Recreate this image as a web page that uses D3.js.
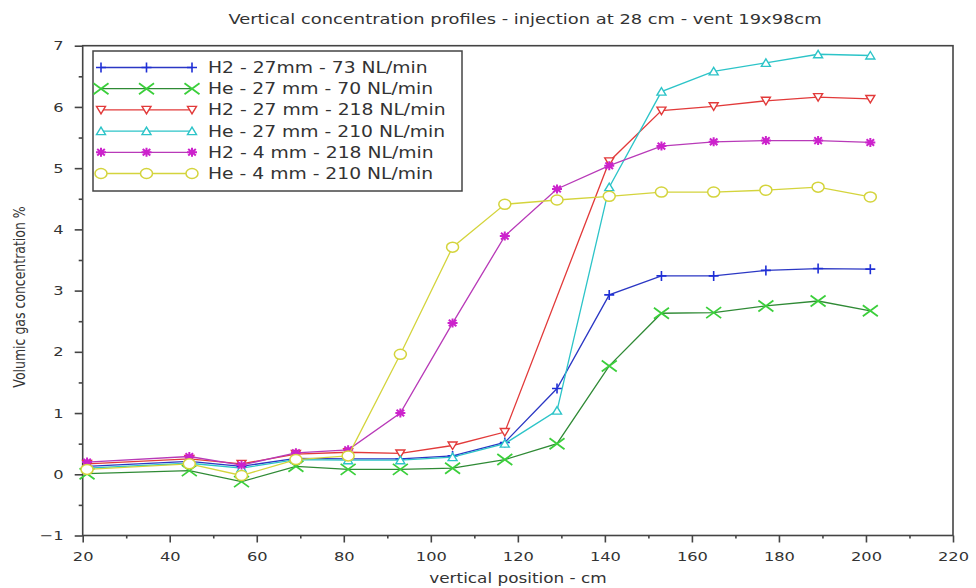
<!DOCTYPE html>
<html>
<head>
<meta charset="utf-8">
<script src="https://cdn.jsdelivr.net/npm/d3@7"></script>
<style>
  body { margin: 0; background: #fff; }
  svg text { font-family: "DejaVu Sans", sans-serif; fill: #333; }
</style>
</head>
<body>
<script>
// positions along the vertical (cm)
var positions = [21, 44.5, 56.5, 69, 81, 93, 105, 117, 129, 141, 153, 165, 177, 189, 201];

// concentrations (%), null = no measurement
var h2_27_73  = [0.13, 0.21, 0.13, 0.26, 0.25, 0.25, 0.30, 0.52, 1.40, 2.93, 3.24, 3.24, 3.33, 3.36, 3.35];
var he_27_70  = [0.01, 0.06, -0.12, 0.13, 0.08, 0.08, 0.10, 0.24, 0.50, 1.77, 2.63, 2.64, 2.75, 2.83, 2.67];
var h2_27_218 = [0.17, 0.25, 0.17, 0.33, 0.36, 0.34, 0.47, 0.69, null, 5.11, 5.94, 6.01, 6.10, 6.16, 6.13];
var he_27_210 = [0.10, 0.18, 0.10, 0.24, 0.23, 0.23, 0.28, 0.50, 1.04, 4.69, 6.25, 6.58, 6.72, 6.86, 6.84];
var h2_4_218  = [0.20, 0.29, 0.15, 0.35, 0.40, 1.00, 2.47, 3.89, 4.66, 5.04, 5.36, 5.43, 5.45, 5.45, 5.42];
var he_4_210  = [0.08, 0.17, -0.02, 0.24, 0.30, 1.96, 3.71, 4.41, 4.48, 4.54, 4.61, 4.61, 4.64, 4.69, 4.53];

var seriesNames = ["H2 - 27mm - 73 NL/min", "He - 27 mm - 70 NL/min", "H2 - 27 mm - 218 NL/min",
                   "He - 27 mm - 210 NL/min", "H2 - 4 mm - 218 NL/min", "He - 4 mm - 210 NL/min"];
var seriesValues = [h2_27_73, he_27_70, h2_27_218, he_27_210, h2_4_218, he_4_210];

var xTicks = [20, 40, 60, 80, 100, 120, 140, 160, 180, 200, 220];
var yTicks = [-1, 0, 1, 2, 3, 4, 5, 6, 7];

var W = 976, H = 588,
    pLeft = 82.7, pRight = 953, pTop = 45.7, pBottom = 535.5,
    sx = 1.25; // glyphs look stretched sideways in the picture

// look of each series: line colour, marker colour, marker kind
var styles = [
  { line: "#2b37c4", mark: "#1f2fd6", kind: "plus" },
  { line: "#2f8a35", mark: "#3bcf3b", kind: "cross" },
  { line: "#e23a3a", mark: "#e23a3a", kind: "tridown" },
  { line: "#2cc4c8", mark: "#2cc4c8", kind: "triup" },
  { line: "#b83ab8", mark: "#cc22cc", kind: "star" },
  { line: "#d4d43c", mark: "#d4d43c", kind: "circle" }
];

var svg = d3.select("body").append("svg")
    .attr("width", W)
    .attr("height", H);

var x = d3.scaleLinear().domain([20, 220]).range([pLeft, pRight]);
var y = d3.scaleLinear().domain([-1, 7]).range([pBottom, pTop]);

/* title */
svg.append("text")
  .attr("transform", "translate(" + 525 + ",24) scale(" + sx + ",1)")
  .attr("text-anchor", "middle")
  .style("font-size", "14.3px")
  .text("Vertical concentration profiles - injection at 28 cm - vent 19x98cm");

/* axes */
var xAxis = svg.append("g").attr("transform", "translate(0," + pBottom + ")");
xAxis.call(d3.axisBottom(x).tickValues(d3.range(30, 220, 20)).tickSize(3).tickFormat("").tickSizeOuter(0));
var xMajor = svg.append("g").attr("transform", "translate(0," + pBottom + ")");
xMajor.call(d3.axisBottom(x).tickValues(xTicks).tickSize(7).tickPadding(9).tickSizeOuter(0));
xMajor.selectAll("text")
  .attr("transform", "scale(" + sx + ",1)")
  .attr("x", 0)
  .style("font-size", "13px")
  .style("font-family", "DejaVu Sans");

var yAxis = svg.append("g").attr("transform", "translate(" + pLeft + ",0)");
yAxis.call(d3.axisLeft(y).tickValues(d3.range(-0.5, 7, 1)).tickSize(4).tickFormat("").tickSizeOuter(0));
var yMajor = svg.append("g").attr("transform", "translate(" + pLeft + ",0)");
yMajor.call(d3.axisLeft(y).tickValues(yTicks).tickSize(8).tickSizeOuter(0));
yMajor.selectAll("text")
  .attr("transform", "scale(" + sx + ",1)")
  .attr("x", -19 / sx)
  .style("font-size", "13px")
  .style("font-family", "DejaVu Sans");

svg.selectAll(".domain").attr("stroke", "none");
svg.selectAll(".tick line").attr("stroke", "#444").attr("stroke-width", 1.6);

/* frame */
svg.append("rect")
  .attr("x", pLeft).attr("y", pTop)
  .attr("width", pRight - pLeft).attr("height", pBottom - pTop)
  .attr("fill", "none")
  .attr("stroke", "#444")
  .attr("stroke-width", 1.6);

/* axis titles */
svg.append("text")
  .attr("transform", "translate(" + 518 + ",583) scale(" + sx + ",1)")
  .attr("text-anchor", "middle")
  .style("font-size", "13.5px")
  .text("vertical position - cm");

svg.append("text")
  .attr("transform", "translate(25,297) scale(" + sx + ",1) rotate(-90)")
  .attr("text-anchor", "middle")
  .style("font-size", "12.5px")
  .text("Volumic gas concentration %");

/* markers */
function drawMark(g, kind, color) {
  if (kind == "plus") {
    g.append("path").attr("d", "M-5,0H5M0,-5V5")
      .attr("stroke", color).attr("stroke-width", 1.6).attr("fill", "none");
  } else if (kind == "cross") {
    g.append("path").attr("d", "M-7.5,-5.5L7.5,5.5M-7.5,5.5L7.5,-5.5")
      .attr("stroke", color).attr("stroke-width", 1.8).attr("fill", "none");
  } else if (kind == "tridown") {
    g.append("path").attr("d", "M-4.5,-3.5L4.5,-3.5L0,4Z")
      .attr("stroke", color).attr("stroke-width", 1.4).attr("fill", "#fff");
  } else if (kind == "triup") {
    g.append("path").attr("d", "M-4.5,3.5L4.5,3.5L0,-4Z")
      .attr("stroke", color).attr("stroke-width", 1.4).attr("fill", "#fff");
  } else if (kind == "star") {
    g.append("path").attr("d", "M-5,0H5M0,-4.5V4.5M-3.8,-3.3L3.8,3.3M-3.8,3.3L3.8,-3.3")
      .attr("stroke", color).attr("stroke-width", 2).attr("fill", "none");
  } else if (kind == "circle") {
    g.append("ellipse").attr("rx", 6).attr("ry", 5)
      .attr("stroke", color).attr("stroke-width", 1.5).attr("fill", "#fff");
  }
}

var line = d3.line()
  .x(function(d) { return x(d.x); })
  .y(function(d) { return y(d.v); });

seriesValues.forEach(function(vals, i) {
  var pts = positions.map(function(p, j) { return { x: p, v: vals[j] }; })
    .filter(function(d) { return d.v !== null; });
  var st = styles[i];
  var g = svg.append("g").attr("class", "series s" + i);
  g.append("path")
    .attr("d", line(pts))
    .attr("fill", "none")
    .attr("stroke", st.line)
    .attr("stroke-width", 1.3);
  g.selectAll("g.mk")
    .data(pts)
    .enter().append("g")
    .attr("class", "mk")
    .attr("transform", function(d) { return "translate(" + x(d.x) + "," + y(d.v) + ")"; })
    .each(function() { drawMark(d3.select(this), st.kind, st.mark); });
});

/* legend */
var lg = svg.append("g");
lg.append("rect")
  .attr("x", 93).attr("y", 51)
  .attr("width", 369).attr("height", 140)
  .attr("fill", "#fff")
  .attr("stroke", "#444")
  .attr("stroke-width", 1.5);

seriesNames.forEach(function(name, i) {
  var ly = 67.5 + i * 21.2, st = styles[i];
  lg.append("line")
    .attr("x1", 101).attr("x2", 192)
    .attr("y1", ly).attr("y2", ly)
    .attr("stroke", st.line).attr("stroke-width", 1.3);
  [101, 146.5, 192].forEach(function(mx) {
    drawMark(lg.append("g").attr("transform", "translate(" + mx + "," + ly + ")"), st.kind, st.mark);
  });
  lg.append("text")
    .attr("transform", "translate(208," + (ly + 5.5) + ") scale(" + sx + ",1)")
    .style("font-size", "15px")
    .text(name);
});
</script>
</body>
</html>
